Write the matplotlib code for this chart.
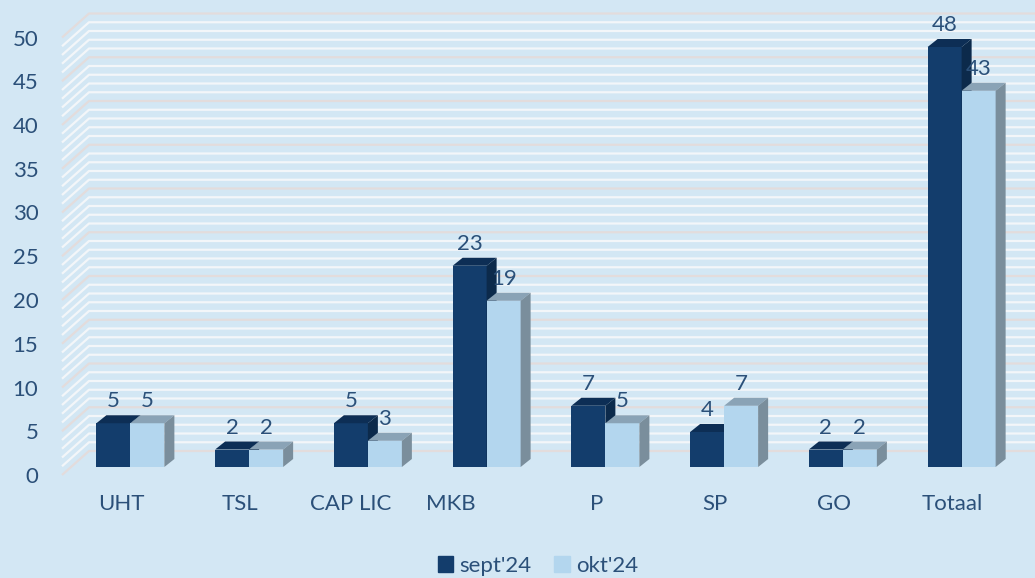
import matplotlib
matplotlib.use("Agg")
import matplotlib.pyplot as plt
from matplotlib.patches import Polygon
from matplotlib.transforms import ScaledTranslation

categories = ["UHT", "TSL", "CAP LIC", "MKB", "P", "SP", "GO", "Totaal"]
sept = [5, 2, 5, 23, 7, 4, 2, 48]
okt = [5, 2, 3, 19, 5, 7, 2, 43]
series_names = ["sept'24", "okt'24"]

BG = "#d3e7f4"
TXT = "#2b5079"
DARK = ("#133d6c", "#0d2e55", "#0c2a4b")    # front, top, side
LIGHT = ("#b3d6ee", "#8aa3b6", "#7a8e9c")
GRID = "#f3f6f9"
GRID5 = "#e3dcdc"

plt.rcParams["font.family"] = ["Lato", "DejaVu Sans"]

W, H = 1035, 578
fig = plt.figure(figsize=(W / 100, H / 100), dpi=100, facecolor=BG)
ax = fig.add_axes([62 / W, (H - 475) / H, 950 / W, 437.5 / H])
ax.set_facecolor(BG)
ax.set_xlim(-0.5, 7.5)
ax.set_ylim(0, 50)

# pixel -> data unit conversions
px_x = 8.0 / 950
px_y = 50 / 437.5

# wall depth, bar position/depth inside it
DX, DY = 27 * px_x, 24 * px_y
BX, BY = 9 * px_x, 8 * px_y
BDX, BDY = 10 * px_x, 8 * px_y
BW = 34 * px_x

# back wall + left wall gridlines
for v in range(0, 51):
    col = GRID5 if v % 5 == 0 else GRID
    ax.plot([-0.5, -0.5 + DX, 7.5 + DX + 0.2], [v, v + DY, v + DY],
            color=col, lw=1.6, solid_joinstyle="round", solid_capstyle="butt",
            clip_on=False, zorder=1)


def draw_series(vals, left, colors, z):
    ax.bar(left, vals, width=BW, bottom=BY, align="edge", color=colors[0],
           linewidth=0, zorder=z, clip_on=False)
    for x0, v in zip(left, vals):
        x1 = x0 + BW
        t = BY + v
        top = [(x0, t), (x1, t), (x1 + BDX, t + BDY), (x0 + BDX, t + BDY)]
        side = [(x1, BY), (x1, t), (x1 + BDX, t + BDY), (x1 + BDX, BY + BDY)]
        ax.add_patch(Polygon(top, closed=True, facecolor=colors[1], lw=0,
                             zorder=z + 0.1, clip_on=False))
        ax.add_patch(Polygon(side, closed=True, facecolor=colors[2], lw=0,
                             zorder=z + 0.1, clip_on=False))
        ax.text(x0 + BW / 2, t + 16 * px_y, str(v), ha="center", va="baseline",
                fontsize=16, color=TXT, zorder=10)


idx = list(range(len(categories)))
left_dark = [i + BX - BW for i in idx]
left_light = [i + BX for i in idx]
draw_series(sept, left_dark, DARK, 2)
draw_series(okt, left_light, LIGHT, 3)

# axes decoration
for s in ax.spines.values():
    s.set_visible(False)
ax.set_yticks(range(0, 51, 5))
ax.set_xticks(idx)
ax.set_xticklabels(categories)
ax.tick_params(axis="y", length=0, pad=17, labelsize=16, labelcolor=TXT)
ax.tick_params(axis="x", length=0, pad=14, labelsize=16, labelcolor=TXT)

# a few labels sit further left in the original
shift_px = {"CAP LIC": -8, "MKB": -27}
for lab in ax.get_xticklabels():
    dx = shift_px.get(lab.get_text(), 0)
    if dx:
        lab.set_transform(lab.get_transform() +
                          ScaledTranslation(dx / 100, 0, fig.dpi_scale_trans))

handles = [plt.Rectangle((0, 0), 1, 1, color=DARK[0]),
           plt.Rectangle((0, 0), 1, 1, color=LIGHT[0])]
fig.legend(handles, series_names, loc="center", bbox_to_anchor=(538 / W, 1 - 566 / H),
           ncol=2, frameon=False, fontsize=16, labelcolor=TXT,
           handlelength=0.7, handleheight=0.7, handletextpad=0.3,
           columnspacing=1.0)

fig.savefig("out.png", dpi=100, facecolor=BG)
